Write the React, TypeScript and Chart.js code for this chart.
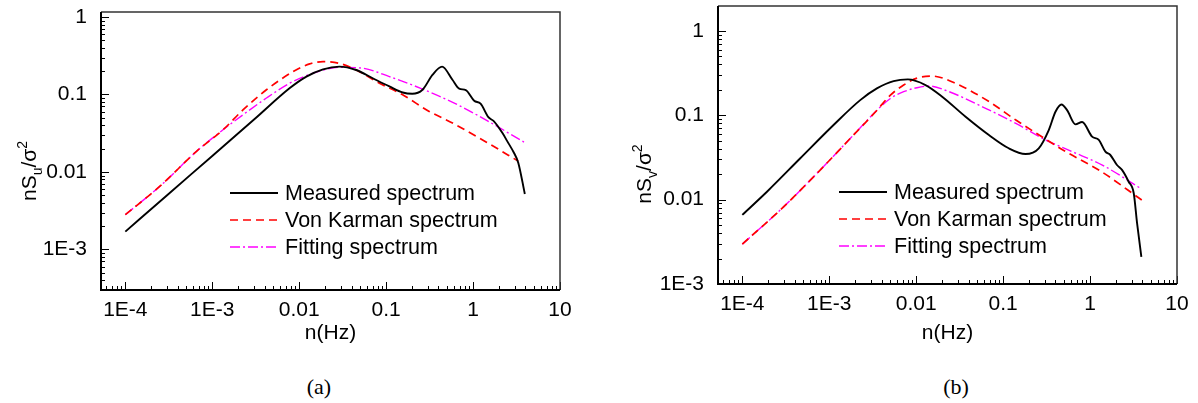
import React, { useEffect, useRef } from "react";
import { Chart, registerables } from "chart.js";
Chart.register(...registerables);

// ---------- data ----------
const xTickValues = [1e-4, 1e-3, 0.01, 0.1, 1, 10];
const xTickLabels = ["1E-4", "1E-3", "0.01", "0.1", "1", "10"];
const yTickValues = [1e-3, 0.01, 0.1, 1];
const yTickLabels = ["1E-3", "0.01", "0.1", "1"];
const legendLabels = ["Measured spectrum", "Von Karman spectrum", "Fitting spectrum"];
const xAxisTitle = "n(Hz)";
const captions = ["(a)", "(b)"];

// panel (a): u component
const measuredA: [number, number][] = [
  [1e-4, 0.0017], [3e-4, 0.00498], [1e-3, 0.0161], [3e-3, 0.0471], [0.0078, 0.121],
  [0.0121, 0.17], [0.0188, 0.211], [0.029, 0.229], [0.0453, 0.207], [0.0702, 0.162],
  [0.109, 0.127], [0.155, 0.106], [0.2, 0.102], [0.262, 0.115], [0.341, 0.179],
  [0.44, 0.229], [0.579, 0.155], [0.692, 0.119], [0.825, 0.114], [1.03, 0.083],
  [1.22, 0.076], [1.5, 0.051], [1.74, 0.045], [2.17, 0.032], [2.47, 0.025],
  [2.95, 0.0177], [3.31, 0.0132], [3.94, 0.0052],
];
const vonKarmanA: [number, number][] = [
  [1e-4, 0.00281], [2.52e-4, 0.0066], [6.64e-4, 0.0186], [1.34e-3, 0.0353], [2.27e-3, 0.0637],
  [4.2e-3, 0.115], [0.0085, 0.197], [0.0132, 0.248], [0.0188, 0.265], [0.029, 0.252],
  [0.0453, 0.207], [0.0838, 0.14], [0.155, 0.099], [0.313, 0.0605], [0.6, 0.042],
  [1.45, 0.024], [3.31, 0.0138],
];
const fittingA: [number, number][] = [
  [1e-4, 0.00281], [2.52e-4, 0.0066], [6.64e-4, 0.0186], [1.34e-3, 0.0353], [2.27e-3, 0.055],
  [4.2e-3, 0.09], [0.0078, 0.14], [0.0121, 0.175], [0.0188, 0.207], [0.029, 0.224],
  [0.054, 0.218], [0.109, 0.17], [0.25, 0.12], [0.6, 0.078], [1.45, 0.046], [3.85, 0.0243],
];

// panel (b): v component
const measuredB: [number, number][] = [
  [1e-4, 0.0066], [1.92e-4, 0.0124], [4.64e-4, 0.0309], [1.12e-3, 0.0766], [2.27e-3, 0.151],
  [3.53e-3, 0.208], [5.5e-3, 0.254], [8.0e-3, 0.266], [0.0128, 0.228], [0.0199, 0.166],
  [0.037, 0.096], [0.0686, 0.0583], [0.116, 0.0406], [0.181, 0.0347], [0.257, 0.0406],
  [0.335, 0.0668], [0.4, 0.11], [0.469, 0.134], [0.544, 0.115], [0.68, 0.078],
  [0.81, 0.083], [1.055, 0.0557], [1.26, 0.0509], [1.5, 0.037], [1.71, 0.0338],
  [2.04, 0.0257], [2.33, 0.0225], [2.78, 0.0163], [3.18, 0.0119], [3.47, 0.0053], [3.89, 0.0021],
];
const vonKarmanB: [number, number][] = [
  [1e-4, 0.00297], [3e-4, 0.00826], [7.23e-4, 0.0205], [1.75e-3, 0.0533], [3.55e-3, 0.115],
  [5.05e-3, 0.173], [7.18e-3, 0.228], [0.0102, 0.275], [0.0153, 0.291], [0.0285, 0.238],
  [0.0689, 0.145], [0.14, 0.0877], [0.259, 0.0583], [0.525, 0.037], [1.3, 0.022], [3.93, 0.0099],
];
const fittingB: [number, number][] = [
  [1e-4, 0.00297], [3e-4, 0.00826], [7.23e-4, 0.0205], [1.75e-3, 0.0533], [3.55e-3, 0.115],
  [5.05e-3, 0.158], [7.18e-3, 0.19], [0.0102, 0.212], [0.014, 0.222], [0.0239, 0.19],
  [0.0577, 0.126], [0.14, 0.08], [0.309, 0.0509], [0.625, 0.037], [1.4, 0.0255], [3.9, 0.0134],
];

// ---------- drawing helpers ----------
const FONT = "'Liberation Sans', Arial, sans-serif";

const decorPlugin = {
  id: "decor",
  afterDraw(chart: any, _args: any, opts: any) {
    const { ctx, chartArea: a, scales } = chart;
    const xs = scales.x;
    const ys = scales.y;
    ctx.save();
    // inward tick marks
    ctx.strokeStyle = "#000";
    ctx.lineWidth = 1;
    for (let d = -6; d <= 1; d++) {
      for (let k = 1; k <= 9; k++) {
        const v = k * Math.pow(10, d);
        const len = k === 1 ? 8 : 4;
        if (v >= xs.min * 0.9999 && v <= xs.max * 1.0001) {
          const px = Math.round(xs.getPixelForValue(v)) + 0.5;
          ctx.beginPath();
          ctx.moveTo(px, a.bottom);
          ctx.lineTo(px, a.bottom - len);
          ctx.stroke();
        }
        if (v >= ys.min * 0.9999 && v <= ys.max * 1.0001) {
          const py = Math.round(ys.getPixelForValue(v)) + 0.5;
          ctx.beginPath();
          ctx.moveTo(a.left, py);
          ctx.lineTo(a.left + len, py);
          ctx.stroke();
        }
      }
    }
    // frame
    ctx.strokeStyle = "#333";
    ctx.lineWidth = 1.5;
    ctx.beginPath();
    ctx.moveTo(a.left, a.top);
    ctx.lineTo(a.right, a.top);
    ctx.lineTo(a.right, a.bottom);
    ctx.stroke();
    ctx.strokeStyle = "#000";
    ctx.lineWidth = 2;
    ctx.beginPath();
    ctx.moveTo(a.left, a.top);
    ctx.lineTo(a.left, a.bottom);
    ctx.lineTo(a.right, a.bottom);
    ctx.stroke();

    // x title
    ctx.fillStyle = "#000";
    ctx.font = `21px ${FONT}`;
    ctx.textAlign = "center";
    ctx.textBaseline = "middle";
    ctx.fillText(xAxisTitle, (a.left + a.right) / 2, opts.xTitleY);

    // y title with subscript / superscript
    const pieces = [
      { t: "nS", s: 21, dy: 0 },
      { t: opts.sub, s: 14, dy: 6 },
      { t: "/σ", s: 21, dy: 0 },
      { t: "2", s: 14, dy: -9 },
    ];
    let total = 0;
    for (const p of pieces) {
      ctx.font = `${p.s}px ${FONT}`;
      total += ctx.measureText(p.t).width;
    }
    ctx.save();
    ctx.translate(opts.yTitleX, opts.yTitleY);
    ctx.rotate(-Math.PI / 2);
    ctx.textAlign = "left";
    ctx.textBaseline = "alphabetic";
    let cx = -total / 2;
    for (const p of pieces) {
      ctx.font = `${p.s}px ${FONT}`;
      ctx.fillText(p.t, cx, 7 + p.dy);
      cx += ctx.measureText(p.t).width;
    }
    ctx.restore();

    // legend
    chart.data.datasets.forEach((ds: any, i: number) => {
      const y = opts.legendY + i * opts.legendDy;
      ctx.save();
      ctx.strokeStyle = ds.borderColor;
      ctx.lineWidth = ds.borderWidth;
      ctx.setLineDash(ds.borderDash || []);
      ctx.beginPath();
      ctx.moveTo(opts.legendX, y);
      ctx.lineTo(opts.legendX + 48, y);
      ctx.stroke();
      ctx.restore();
      ctx.fillStyle = "#000";
      ctx.font = `21.5px ${FONT}`;
      ctx.textAlign = "left";
      ctx.textBaseline = "middle";
      ctx.fillText(ds.label, opts.legendX + 55, y + 1);
    });
    ctx.restore();
  },
};

function lineDs(label: string, pts: [number, number][], color: string, width: number, dash: number[]) {
  return {
    label,
    data: pts.map(([x, y]) => ({ x, y })),
    borderColor: color,
    borderWidth: width,
    borderDash: dash,
    pointRadius: 0,
    fill: false,
    cubicInterpolationMode: "monotone" as const,
  };
}

type PanelProps = {
  measured: [number, number][];
  vonKarman: [number, number][];
  fitting: [number, number][];
  width: number;
  height: number;
  bottom: number;
  pad: { left: number; top: number; right: number };
  yMin: number;
  yMax: number;
  tickPad: number;
  sub: string;
  yTitleX: number;
  yTitleY: number;
  legendX: number;
  legendY: number;
};

function Panel(p: PanelProps) {
  const ref = useRef<HTMLCanvasElement | null>(null);
  useEffect(() => {
    if (!ref.current) return;
    const chart = new Chart(ref.current, {
      type: "line",
      data: {
        datasets: [
          lineDs(legendLabels[0], p.measured, "#000000", 1.9, []),
          lineDs(legendLabels[1], p.vonKarman, "#ff0000", 1.7, [8, 5]),
          lineDs(legendLabels[2], p.fitting, "#ff00ff", 1.4, [10, 3, 2, 3]),
        ],
      },
      options: {
        animation: false,
        responsive: false,
        events: [],
        layout: { padding: { left: 0, top: p.pad.top, right: p.pad.right, bottom: 0 } },
        scales: {
          x: {
            type: "logarithmic",
            position: "bottom",
            min: 5.25e-5,
            max: 10,
            grid: { display: false },
            border: { display: false },
            ticks: {
              autoSkip: false,
              maxRotation: 0,
              padding: p.tickPad,
              color: "#000",
              font: { family: FONT, size: 21 },
              callback: (_v: any, i: number) => xTickLabels[i],
            },
            afterBuildTicks: (s: any) => {
              s.ticks = xTickValues.map((v) => ({ value: v }));
            },
            afterFit: (s: any) => {
              s.height = p.height - p.bottom;
              s.paddingLeft = 0;
              s.paddingRight = 0;
            },
          },
          y: {
            type: "logarithmic",
            position: "left",
            min: p.yMin,
            max: p.yMax,
            grid: { display: false },
            border: { display: false },
            ticks: {
              autoSkip: false,
              padding: 6,
              color: "#000",
              font: { family: FONT, size: 21 },
              callback: (_v: any, i: number) => yTickLabels[i],
            },
            afterBuildTicks: (s: any) => {
              s.ticks = yTickValues.map((v) => ({ value: v }));
            },
            afterFit: (s: any) => {
              s.width = p.pad.left;
              s.paddingTop = 0;
              s.paddingBottom = 0;
            },
          },
        },
        plugins: {
          legend: { display: false },
          tooltip: { enabled: false },
          decor: {
            sub: p.sub,
            xTitleY: 333,
            yTitleX: p.yTitleX,
            yTitleY: p.yTitleY,
            legendX: p.legendX,
            legendY: p.legendY,
            legendDy: 27,
          },
        } as any,
      },
      plugins: [decorPlugin],
    } as any);
    return () => chart.destroy();
  }, []);
  return <canvas ref={ref} width={p.width} height={p.height} style={{ display: "block", width: p.width, height: p.height }} />;
}

const captionStyle: React.CSSProperties = {
  position: "absolute",
  width: 100,
  top: 374,
  textAlign: "center",
  font: "22px 'Liberation Serif', 'Times New Roman', serif",
  color: "#000",
};

export default function App() {
  return (
    <div style={{ position: "fixed", left: 0, top: 0, width: 1198, height: 403, background: "#fff" }}>
      <div style={{ position: "absolute", left: 0, top: 0 }}>
        <Panel
          measured={measuredA}
          vonKarman={vonKarmanA}
          fitting={fittingA}
          width={600}
          height={360}
          bottom={290}
          pad={{ left: 101, top: 12, right: 40 }}
          yMin={3.15e-4}
          yMax={1.16}
          tickPad={0}
          sub="u"
          yTitleX={29}
          yTitleY={171}
          legendX={230}
          legendY={193}
        />
      </div>
      <div style={{ position: "absolute", left: 600, top: 0 }}>
        <Panel
          measured={measuredB}
          vonKarman={vonKarmanB}
          fitting={fittingB}
          width={598}
          height={360}
          bottom={284}
          pad={{ left: 118, top: 6, right: 21 }}
          yMin={1e-3}
          yMax={1.97}
          tickPad={0}
          sub="v"
          yTitleX={44}
          yTitleY={174}
          legendX={239}
          legendY={192}
        />
      </div>
      <div style={{ ...captionStyle, left: 269 }}>{captions[0]}</div>
      <div style={{ ...captionStyle, left: 906 }}>{captions[1]}</div>
    </div>
  );
}
